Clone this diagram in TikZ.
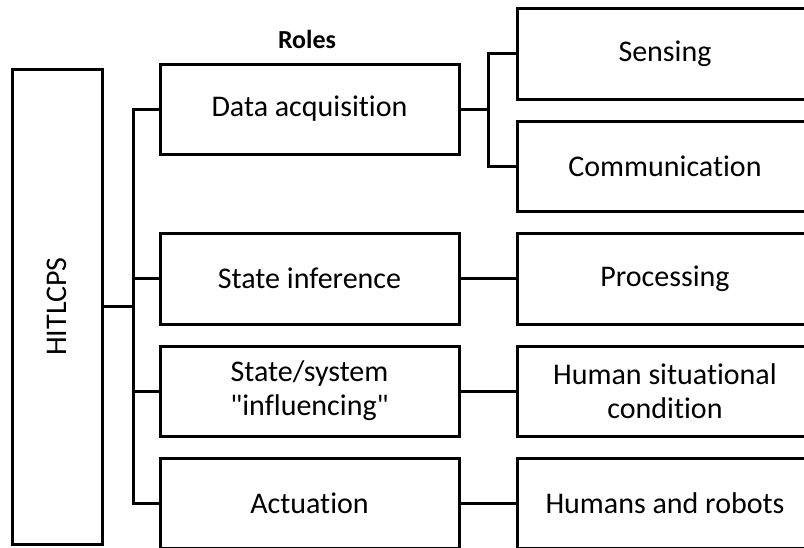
\documentclass[tikz,border=0pt]{standalone}
\usepackage{fontspec}
\newfontfamily\boxfont[Ligatures=NoCommon]{Carlito}
\begin{document}
\begin{tikzpicture}[x=1pt,y=-1pt,
  line width=3pt,
  box/.style={draw=black, line width=3pt, rectangle, inner sep=0pt,
    align=center, font=\boxfont\fontsize{30}{34}\selectfont},
  rolebox/.style={box, minimum width=299pt, minimum height=90pt},
  outbox/.style={box, minimum width=296pt, minimum height=90pt},
  link/.style={draw=black, line width=3pt}]
  \clip (0,0) rectangle (804,547);
  \fill[white] (0,0) rectangle (804,547);

  % root
  \node[box, minimum width=90pt, minimum height=475pt] (hitl) at (57,306.5)
    {\rotatebox{90}{HITLCPS}};
  \node[font=\boxfont\fontsize{26}{30}\selectfont\bfseries] (roles) at (307,39) {Roles};

  % roles column
  \node[rolebox] (da)  at (309.5,109)   {Data acquisition};
  \node[rolebox, minimum height=91pt] (si) at (309.5,278.5) {State inference};
  \node[rolebox] (ss)  at (309.5,391)   {State/system\\"influencing"};
  \node[rolebox] (act) at (309.5,503)   {Actuation};

  % outcomes column
  \node[outbox, minimum height=91pt] (sen) at (665,53.5) {Sensing};
  \node[outbox] (com) at (665,166)   {Communication};
  \node[outbox, minimum height=91pt] (pro) at (665,278.5) {Processing};
  \node[outbox] (hsc) at (665,391)   {Human situational\\condition};
  \node[outbox] (har) at (665,503)   {Humans and robots};

  % tree connectors
  \coordinate (tk) at (133,306.5);
  \coordinate (br) at (488,109);
  \draw[link] (hitl.east) -- (tk);
  \draw[link] (da.west) -| (tk) |- (act.west);
  \draw[link] (si.west) -- (si.west -| tk);
  \draw[link] (ss.west) -- (ss.west -| tk);
  \draw[link] (da.east) -- (br);
  \draw[link] (sen.west) -| (br) |- (com.west);
  \draw[link] (si.east) -- (pro.west);
  \draw[link] (ss.east) -- (hsc.west);
  \draw[link] (act.east) -- (har.west);
\end{tikzpicture}
\end{document}
